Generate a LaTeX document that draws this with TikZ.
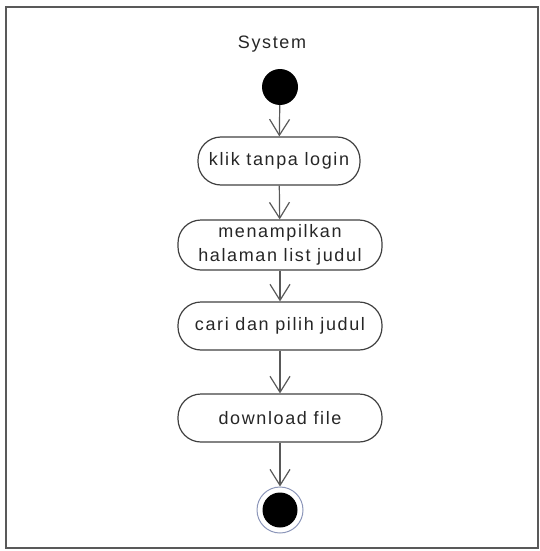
\documentclass[tikz,border=0pt]{standalone}
\usepackage{fontspec}
\setmainfont{Liberation Sans}[LetterSpace=9]
\usetikzlibrary{arrows.meta}
\definecolor{ringc}{RGB}{140,150,185}
\begin{document}
\begin{tikzpicture}[x=1pt,y=-1pt,
  act/.style={draw=black!75, line width=1.2pt, rounded corners=23pt, minimum width=204pt, minimum height=48pt, inner sep=0pt, align=center, font=\fontsize{18}{23.5}\selectfont, text=black!85},
  flow/.style={draw=black!65, line width=1.2pt, -{Straight Barb[length=16pt,width=20pt,line width=1.2pt]}}]
\useasboundingbox (0,0) rectangle (540,551);
\draw[draw=black!65, line width=2pt] (6,7) rectangle (538,548);
\node[font=\fontsize{18}{20}\selectfont, text=black!85] (sys) at (272,44) {System};
\node[circle, fill=black, minimum size=36pt, inner sep=0pt] (start) at (280,87) {};
\node[act, minimum width=162pt] (a1) at (279,161) {klik tanpa login};
\node[act, minimum height=50pt] (a2) at (280,245) {menampilkan\\halaman list judul};
\node[act] (a3) at (280,326) {cari dan pilih judul};
\node[act] (a4) at (280,418) {download file};
\node[circle, draw=ringc, line width=1pt, minimum size=46pt, inner sep=0pt] (end) at (280,510) {};
\node[circle, fill=black, minimum size=35pt, inner sep=0pt] at (end.center) {};
\draw[flow] (start) -- (a1);
\draw[flow] (a1) -- (a2);
\draw[flow] (a2) -- (a3);
\draw[flow] (a3) -- (a4);
\draw[flow] (a4) -- (end);
\end{tikzpicture}
\end{document}
